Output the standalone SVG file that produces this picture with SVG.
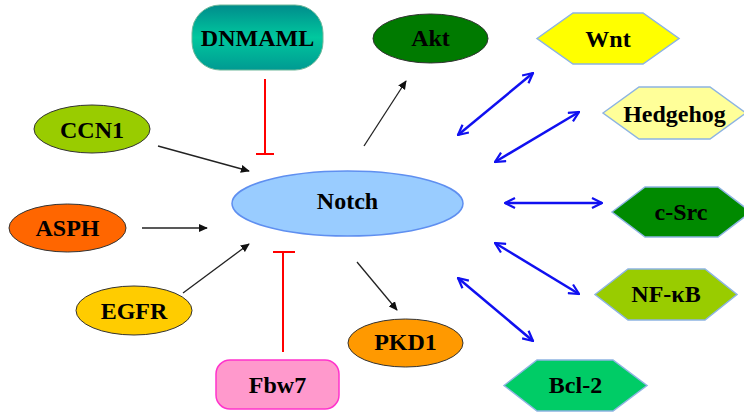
<svg xmlns="http://www.w3.org/2000/svg" width="744" height="412" viewBox="0 0 744 412">
<style>
text{font-family:'Liberation Serif','Tinos','DejaVu Serif',serif;font-weight:bold;font-size:24px;fill:#000;text-anchor:middle}
.el{stroke:#333;stroke-width:1}
.hex{stroke:#8DB4E2;stroke-width:1.5}
.blk{stroke:#222;stroke-width:1.3;fill:none;marker-end:url(#ah)}
.blu{stroke:#1010F0;stroke-width:2.5;fill:none;marker-end:url(#bh);marker-start:url(#bt)}
.red{stroke:#FF0000;stroke-width:2;fill:none}
</style>
<defs>
<marker id="ah" viewBox="0 0 10 10" refX="9" refY="5" markerWidth="9" markerHeight="9" markerUnits="userSpaceOnUse" orient="auto"><path d="M0,0.5 L10,5 L0,9.5 Z" fill="#111"/></marker>
<marker id="bh" viewBox="0 0 12 12" refX="11" refY="6" markerWidth="12" markerHeight="12" markerUnits="userSpaceOnUse" orient="auto"><path d="M1,1 L11,6 L1,11" fill="none" stroke="#1010F0" stroke-width="2.2"/></marker>
<marker id="bt" viewBox="0 0 12 12" refX="1" refY="6" markerWidth="12" markerHeight="12" markerUnits="userSpaceOnUse" orient="auto"><path d="M11,1 L1,6 L11,11" fill="none" stroke="#1010F0" stroke-width="2.2"/></marker>
<linearGradient id="teal" x1="0" y1="0" x2="0" y2="1"><stop offset="0" stop-color="#008C8C"/><stop offset="0.5" stop-color="#00C89E"/><stop offset="1" stop-color="#009A92"/></linearGradient>
</defs>
<rect width="744" height="412" fill="#fff"/>
<g id="connectors">
<line class="red" x1="265" y1="79" x2="265" y2="154"/>
<line class="red" x1="256" y1="154" x2="274" y2="154"/>
<line class="red" x1="283" y1="352" x2="283" y2="252"/>
<line class="red" x1="273" y1="252" x2="295" y2="252"/>
<line class="blk" x1="364" y1="146" x2="406" y2="81"/>
<line class="blk" x1="158" y1="146" x2="249" y2="171"/>
<line class="blk" x1="142" y1="228" x2="207" y2="228"/>
<line class="blk" x1="183" y1="293" x2="249" y2="244"/>
<line class="blk" x1="357" y1="262" x2="397" y2="310"/>
<line class="blu" x1="458" y1="135" x2="533" y2="73"/>
<line class="blu" x1="495" y1="162" x2="579" y2="112"/>
<line class="blu" x1="505" y1="203" x2="602" y2="203"/>
<line class="blu" x1="495" y1="243" x2="579" y2="294"/>
<line class="blu" x1="458" y1="278" x2="533" y2="341"/>
</g>
<g id="notch"><ellipse cx="347.5" cy="203.5" rx="115.5" ry="32.5" fill="#99CCFF" stroke="#5F8FF0" stroke-width="1.5"/><text x="347.5" y="208.5">Notch</text></g>
<g id="dnmaml"><rect x="192" y="5" width="131" height="65" rx="28" fill="url(#teal)" stroke="#6FB89A" stroke-width="1"/><text x="257.5" y="45.5">DNMAML</text></g>
<g id="akt"><ellipse cx="430.5" cy="38.5" rx="57.5" ry="24.5" fill="#007A00" class="el"/><text x="430.5" y="46">Akt</text></g>
<g id="ccn1"><ellipse cx="92" cy="129" rx="58" ry="24" fill="#99CC00" class="el"/><text x="92" y="137.5">CCN1</text></g>
<g id="asph"><ellipse cx="67.5" cy="228" rx="58.5" ry="24" fill="#FF6600" class="el"/><text x="67.5" y="236">ASPH</text></g>
<g id="egfr"><ellipse cx="134" cy="310.5" rx="58" ry="24.5" fill="#FFCC00" class="el"/><text x="134" y="318.5">EGFR</text></g>
<g id="pkd1"><ellipse cx="405.5" cy="343" rx="57.5" ry="24" fill="#FF9900" class="el"/><text x="405.5" y="349.5">PKD1</text></g>
<g id="fbw7"><rect x="216" y="360" width="123" height="49" rx="14" fill="#FF99CC" stroke="#FF33CC" stroke-width="1.5"/><text x="277.5" y="392.5">Fbw7</text></g>
<g id="wnt"><polygon class="hex" points="537,38.5 573,13 643,13 679,38.5 643,64 573,64" fill="#FFFF00"/><text x="608" y="46.5">Wnt</text></g>
<g id="hedgehog"><polygon class="hex" points="603,113 639,87 710,87 746,113 710,139 639,139" fill="#FFFF99"/><text x="674.5" y="121.5">Hedgehog</text></g>
<g id="csrc"><polygon class="hex" points="612,212 645,187 718,187 751,212 718,237 645,237" fill="#008A00"/><text x="681" y="220">c-Src</text></g>
<g id="nfkb"><polygon class="hex" points="595,294.5 628,269 705,269 737,294.5 705,320 628,320" fill="#99CC00"/><text x="666" y="302">NF-κB</text></g>
<g id="bcl2"><polygon class="hex" points="504,385.5 537,360 613,360 647,385.5 613,411 537,411" fill="#00CC66"/><text x="575.5" y="393">Bcl-2</text></g>
</svg>
